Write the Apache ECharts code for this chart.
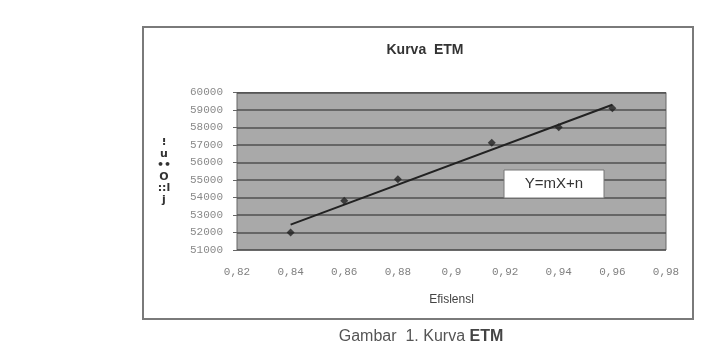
<!DOCTYPE html>
<html>
<head>
<meta charset="utf-8">
<script src="https://cdn.jsdelivr.net/npm/echarts@6/dist/echarts.min.js"></script>
<style>
html,body{margin:0;padding:0;background:#fff;}
#c{width:722px;height:354px;}
</style>
</head>
<body>
<div id="c"></div>
<script>
// Data
var efisiensi = [0.84, 0.86, 0.88, 0.915, 0.94, 0.96];
var nilai = [52000, 53820, 55040, 57130, 58010, 59100];
var trendX = [0.84, 0.96];
var trendY = [52450, 59300];
var xTicks = {min: 0.82, max: 0.98, interval: 0.02};
var yTicks = {min: 51000, max: 60000, interval: 1000};
var chartTitle = 'Kurva  ETM';
var xName = 'Efislensl';
var yNameLines = ['\u205D', 'u', '\u2022\u2022', 'O', '::l', 'j'];
var equation = 'Y=mX+n';

var chart = echarts.init(document.getElementById('c'), null, {renderer: 'canvas'});

var points = efisiensi.map(function (x, i) { return [x, nilai[i]]; });
var trend = trendX.map(function (x, i) { return [x, trendY[i]]; });

var option = {
  animation: false,
  backgroundColor: '#ffffff',
  title: {
    text: chartTitle,
    left: 420, top: 38, textAlign: 'center',
    textStyle: {fontFamily: 'Liberation Sans', fontSize: 14, fontWeight: 'bold', color: '#333'}
  },
  grid: {
    left: 237, right: 56, top: 92.5, bottom: 104,
    show: true, backgroundColor: '#a9a9a9', borderColor: '#666', borderWidth: 1
  },
  xAxis: {
    type: 'value', min: xTicks.min, max: xTicks.max, interval: xTicks.interval,
    name: xName, nameLocation: 'middle', nameGap: 44,
    nameTextStyle: {fontFamily: 'Liberation Sans', fontSize: 12, color: '#444'},
    axisLine: {show: false}, axisTick: {show: false}, splitLine: {show: false},
    axisLabel: {
      margin: 17, fontFamily: 'Liberation Mono', fontSize: 11, color: '#808080',
      formatter: function (v) { return String(Math.round(v * 100) / 100).replace('.', ','); }
    }
  },
  yAxis: {
    type: 'value', min: yTicks.min, max: yTicks.max, interval: yTicks.interval,
    axisLine: {show: false},
    axisTick: {show: true, inside: false, length: 4, lineStyle: {color: '#666'}},
    splitLine: {show: true, lineStyle: {color: '#505050', width: 1.5}},
    axisLabel: {
      margin: 14, fontFamily: 'Liberation Mono', fontSize: 11, color: '#8a8a8a',
      formatter: function (v) { return String(Math.round(v)); }
    }
  },
  series: [
    {
      type: 'line', data: trend, showSymbol: false, symbol: 'none',
      lineStyle: {color: '#222', width: 2}, z: 3
    },
    {
      type: 'scatter', data: points, symbol: 'diamond', symbolSize: 8,
      itemStyle: {color: '#222'}, z: 4
    }
  ],
  graphic: [
    {
      type: 'rect', shape: {x: 143, y: 27, width: 550, height: 292},
      style: {fill: 'none', stroke: '#7a7a7a', lineWidth: 2}, z: 0
    },
    {
      type: 'rect', shape: {x: 504, y: 170, width: 100, height: 28},
      style: {fill: '#fff', stroke: '#777', lineWidth: 1}, z: 10
    },
    {
      type: 'text', x: 554, y: 184, z: 11,
      style: {text: equation, fontFamily: 'Liberation Sans', fontSize: 15, fill: '#333',
              align: 'center', verticalAlign: 'middle'}
    },
    {
      type: 'text', x: 164, y: 171, z: 11,
      style: {text: yNameLines.join('\n'), fontFamily: 'DejaVu Sans', fontSize: 11, fontWeight: 'bold',
              lineHeight: 11.5, fill: '#333', align: 'center', verticalAlign: 'middle'}
    },
    {
      type: 'text', x: 421, y: 337, z: 11,
      style: {
        text: '{a|Gambar  1. Kurva }{b|ETM}',
        align: 'center', verticalAlign: 'middle',
        rich: {
          a: {fontFamily: 'Liberation Sans', fontSize: 16, fill: '#555', color: '#555'},
          b: {fontFamily: 'Liberation Sans', fontSize: 16, fontWeight: 'bold', fill: '#444', color: '#444'}
        }
      }
    }
  ]
};
chart.setOption(option);
</script>
</body>
</html>
